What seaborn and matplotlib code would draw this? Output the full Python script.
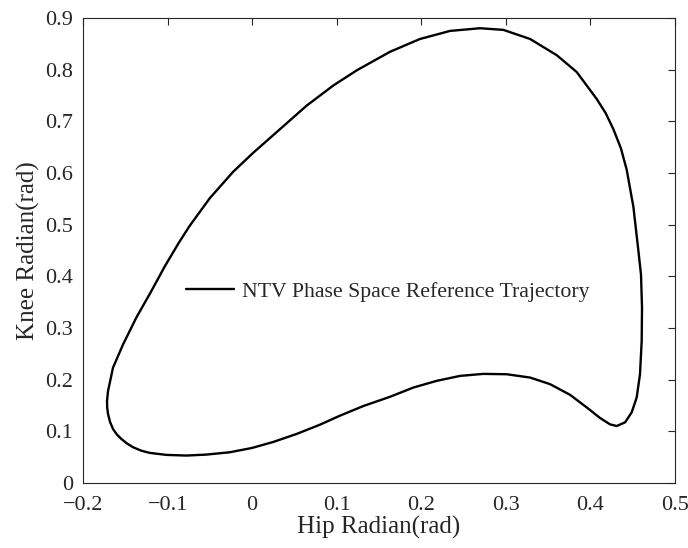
import matplotlib
matplotlib.use("Agg")
import matplotlib.pyplot as plt
import seaborn as sns
import pandas as pd

# Phase-space loop (hip, knee), clockwise, closed
hip = [-0.1716, -0.1704, -0.1645, -0.1527, -0.1370, -0.1190, -0.1034, -0.0868, -0.0738,
       -0.0501, -0.0225, 0.0012, 0.0327, 0.0643, 0.0959, 0.1237, 0.1630, 0.1985, 0.2340,
       0.2695, 0.2971, 0.3286, 0.3602, 0.3838, 0.4074, 0.4180, 0.4272, 0.4360, 0.4429,
       0.4508, 0.4567, 0.4598, 0.4610, 0.4606, 0.4586, 0.4547, 0.4488, 0.4410, 0.4311,
       0.4232, 0.4114, 0.3956, 0.3759, 0.3523, 0.3286, 0.3010, 0.2734, 0.2458, 0.2182,
       0.1907, 0.1631, 0.1315, 0.1037, 0.0801, 0.0525, 0.0249, 0.0000, -0.0264, -0.0540,
       -0.0777, -0.1014, -0.1211, -0.1310, -0.1408, -0.1480, -0.1546, -0.1600, -0.1645,
       -0.1680, -0.1704, -0.1714, -0.1716]
knee = [0.1590, 0.1780, 0.2233, 0.2680, 0.3200, 0.3720, 0.4190, 0.4647, 0.4979,
        0.5512, 0.6023, 0.6390, 0.6845, 0.7302, 0.7693, 0.7987, 0.8346, 0.8594, 0.8750,
        0.8802, 0.8770, 0.8594, 0.8280, 0.7954, 0.7433, 0.7160, 0.6845, 0.6480, 0.6063,
        0.5345, 0.4497, 0.4032, 0.3390, 0.2748, 0.2105, 0.1656, 0.1367, 0.1174, 0.1103,
        0.1135, 0.1258, 0.1463, 0.1707, 0.1913, 0.2041, 0.2105, 0.2112, 0.2073, 0.1977,
        0.1848, 0.1669, 0.1490, 0.1302, 0.1128, 0.0949, 0.0794, 0.0679, 0.0595, 0.0550,
        0.0531, 0.0544, 0.0583, 0.0625, 0.0692, 0.0765, 0.0852, 0.0940, 0.1045,
        0.1180, 0.1334, 0.1460, 0.1590]

xticks = [-0.2, -0.1, 0, 0.1, 0.2, 0.3, 0.4, 0.5]
xticklabels = ["\u22120.2", "\u22120.1", "0", "0.1", "0.2", "0.3", "0.4", "0.5"]
yticks = [0, 0.1, 0.2, 0.3, 0.4, 0.5, 0.6, 0.7, 0.8, 0.9]
yticklabels = ["0", "0.1", "0.2", "0.3", "0.4", "0.5", "0.6", "0.7", "0.8", "0.9"]
label = "NTV Phase Space Reference Trajectory"
xlabel = "Hip Radian(rad)"
ylabel = "Knee Radian(rad)"

sns.set_theme(style="white")
plt.rcParams["font.family"] = ["Liberation Serif", "DejaVu Serif"]

df = pd.DataFrame({"hip": hip, "knee": knee})

fig = plt.figure(figsize=(6.88, 5.48), dpi=100)
ax = fig.add_axes([83 / 688, 65 / 548, 592 / 688, 465 / 548])
sns.lineplot(data=df, x="hip", y="knee", sort=False, estimator=None, color="black",
             linewidth=1.7, ax=ax, label=label)
ax.lines[0].set_solid_joinstyle("round")

ax.set_xlim(-0.2, 0.5)
ax.set_ylim(0, 0.9)
ax.set_xticks(xticks)
ax.set_yticks(yticks)
ax.set_xticklabels(xticklabels)
ax.set_yticklabels(yticklabels)
ax.tick_params(direction="in", length=5, width=0.8, top=True, right=True,
               labelsize=16, colors="#262626", labelcolor="#262626")
ax.tick_params(axis="x", pad=9)
ax.tick_params(axis="y", pad=7)
for s in ax.spines.values():
    s.set_color("#262626")
    s.set_linewidth(0.8)
ax.set_xlabel(xlabel, fontsize=18, color="#262626", labelpad=1)
ax.set_ylabel(ylabel, fontsize=18, color="#262626", labelpad=4)

ax.legend(loc="center left", bbox_to_anchor=(0.141, 0.411), frameon=False,
          fontsize=15.7, handlelength=2.2, handletextpad=0.37)

fig.savefig("out.png", dpi=100)
